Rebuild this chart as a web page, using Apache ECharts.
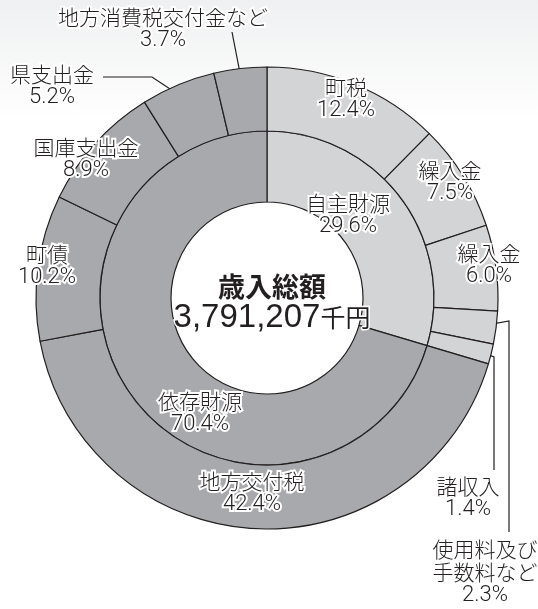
<!DOCTYPE html>
<html>
<head>
<meta charset="utf-8">
<script src="https://cdn.jsdelivr.net/npm/echarts@6/dist/echarts.min.js"></script>
<style>
  html, body { margin: 0; padding: 0; background: #fff; }
  #chart { width: 538px; height: 609px; }
</style>
</head>
<body>
<div id="chart"></div>
<script>
// 内側：財源区分
const groupNames = ['自主財源', '依存財源']
const groupValues = [29.6, 70.4]

// 外側：内訳（時計回り、上から）
const itemNames = ['町税', '繰入金', '繰入金', '使用料及び\n手数料など', '諸収入',
  '地方交付税', '町債', '国庫支出金', '県支出金', '地方消費税交付金など']
const itemValues = [12.4, 7.5, 6.0, 2.3, 1.4, 42.4, 10.2, 8.9, 5.2, 3.7]
const itemGroup = [0, 0, 0, 0, 0, 1, 1, 1, 1, 1]

const totalTitle = '歳入総額'
const totalNumber = '3,791,207'
const totalUnit = '千円'

const colors = ['#d3d4d6', '#a8a9ac']
const lineColor = '#231f20'
const center = [267, 298]

// ラベル位置（中心座標）
const outerLabelPos = [
  [346, 99], [450, 182], [489, 265], [485, 572], [468, 498],
  [252, 493], [47, 266], [86, 159], [52, 86], [163, 29]
]
const innerLabelPos = [[348, 215], [200, 413]]
// 引き出し線の折れ点（ラベル側）
const leaderBends = {
  3: [[509, 532], [509, 321]],
  4: [[494, 470], [494, 357]],
  8: [[103, 77], [152, 77]],
  9: [[232, 32]]
}
const outsideItems = [3, 4, 8, 9]

const chart = echarts.init(document.getElementById('chart'))

const jpFont = '"Noto Sans CJK JP", "Noto Sans", sans-serif'
const numFont = 'Roboto, "Liberation Sans", sans-serif'

const fmt = p => p.name.split('\n').map(s => '{n|' + s + '}').join('\n') +
  '\n{v|' + p.value.toFixed(1) + '%}'

const halo = { textBorderColor: '#fff', textBorderWidth: 4 }
const labelBase = {
  color: lineColor,
  align: 'center',
  rich: {
    n: Object.assign({ color: lineColor, fontSize: 21, lineHeight: 23, fontWeight: 300, fontFamily: jpFont }, halo),
    v: Object.assign({ color: lineColor, fontSize: 22, lineHeight: 23, fontWeight: 300, fontFamily: numFont }, halo)
  }
}

const outerData = itemNames.map((n, i) => {
  const outside = outsideItems.indexOf(i) >= 0
  return {
    name: n,
    value: itemValues[i],
    itemStyle: { color: colors[itemGroup[i]] },
    label: { position: outside ? 'outside' : 'inside' },
    labelLine: { show: outside }
  }
})

const innerData = groupNames.map((n, i) => ({
  name: n,
  value: groupValues[i],
  itemStyle: { color: colors[i] }
}))

function innerLayout (p) {
  const pos = innerLabelPos[p.dataIndex]
  return { x: pos[0], y: pos[1], align: 'center', verticalAlign: 'middle' }
}

function outerLayout (p) {
  const pos = outerLabelPos[p.dataIndex]
  const res = { x: pos[0], y: pos[1], align: 'center', verticalAlign: 'middle' }
  const bends = leaderBends[p.dataIndex]
  if (bends && p.labelLinePoints) {
    // 扇形の外周点を少し内側へ寄せて線の端とする
    const a = p.labelLinePoints[0]
    const dx = a[0] - center[0]
    const dy = a[1] - center[1]
    const r = Math.sqrt(dx * dx + dy * dy)
    const k = (r - 14) / r
    const end = [center[0] + dx * k, center[1] + dy * k]
    res.labelLinePoints = bends.concat([end])
  }
  return res
}

chart.setOption({
  backgroundColor: {
    type: 'linear', x: 0, y: 0, x2: 0, y2: 1,
    colorStops: [
      { offset: 0, color: '#eff0f1' },
      { offset: 0.2, color: '#ffffff' },
      { offset: 1, color: '#ffffff' }
    ]
  },
  animation: false,
  title: {
    left: center[0],
    top: center[1] - 1,
    textAlign: 'center',
    textVerticalAlign: 'middle',
    text: '{a|' + totalTitle + '}\n{b|' + totalNumber + '}{c|' + totalUnit + '}',
    textStyle: {
      fontWeight: 'normal',
      rich: {
        a: { fontSize: 27, fontWeight: 'bold', color: lineColor, lineHeight: 31, fontFamily: jpFont },
        b: { fontSize: 33, fontWeight: 'normal', color: lineColor, lineHeight: 31,
          fontFamily: '"Liberation Sans", Arial, sans-serif',
          textBorderColor: '#fff', textBorderWidth: 3 },
        c: { fontSize: 25, fontWeight: 'normal', color: lineColor, lineHeight: 31, fontFamily: jpFont,
          textBorderColor: '#fff', textBorderWidth: 3 }
      }
    }
  },
  series: [
    {
      type: 'pie',
      name: 'group',
      center: center,
      radius: [96, 167],
      startAngle: 90,
      clockwise: true,
      avoidLabelOverlap: false,
      itemStyle: { borderColor: lineColor, borderWidth: 1.2 },
      label: Object.assign({ position: 'inside', formatter: fmt }, labelBase),
      labelLine: { show: false },
      labelLayout: innerLayout,
      emphasis: { disabled: true },
      data: innerData
    },
    {
      type: 'pie',
      name: 'items',
      center: center,
      radius: [167, 231],
      startAngle: 90,
      clockwise: true,
      avoidLabelOverlap: false,
      itemStyle: { borderColor: lineColor, borderWidth: 1.2 },
      label: Object.assign({ formatter: fmt }, labelBase),
      labelLine: { lineStyle: { color: lineColor, width: 1.2 }, length: 10, length2: 10 },
      labelLayout: outerLayout,
      emphasis: { disabled: true },
      data: outerData
    }
  ]
})
</script>
</body>
</html>
